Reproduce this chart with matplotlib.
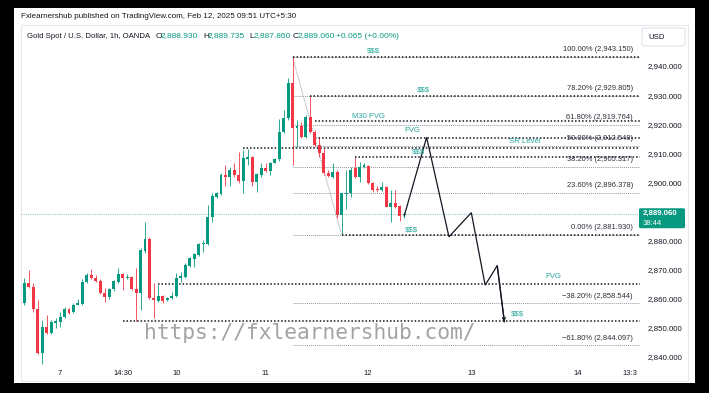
import matplotlib
matplotlib.use('Agg')
import matplotlib.pyplot as plt
from matplotlib.patches import Rectangle, FancyBboxPatch
import numpy as np

W, H = 709, 393
plt.rcParams['font.family'] = ['Liberation Sans', 'DejaVu Sans']

# ---------------- data (1h candles, OANDA XAUUSD) ----------------
opens = [2858.6, 2865.5, 2864.1, 2856.4, 2841.5, 2850.4, 2848.3, 2851.8, 2852.1, 2853.6,
         2856.4, 2855.6, 2857.8, 2858.2, 2865.9, 2868.1, 2867.0, 2866.2, 2861.9, 2860.5,
         2863.2, 2865.9, 2868.5, 2867.3, 2867.6, 2863.3, 2862.1, 2876.5, 2880.4, 2860.4,
         2859.4, 2861.0, 2859.6, 2860.3, 2861.0, 2867.2, 2867.6, 2871.3, 2873.6, 2875.1,
         2878.7, 2878.7, 2888.2, 2894.9, 2896.0, 2902.6, 2902.0, 2904.3, 2902.6, 2900.6,
         2908.2, 2908.6, 2900.3, 2902.6, 2904.9, 2904.0, 2906.8, 2908.0, 2917.4, 2922.0,
         2934.0, 2918.6, 2919.4, 2915.5, 2922.6, 2917.4, 2912.9, 2910.0, 2903.1, 2902.0,
         2903.7, 2888.8, 2896.1, 2896.3, 2904.9, 2901.8, 2905.2, 2905.7, 2899.9, 2897.6,
         2897.4, 2898.3, 2891.7, 2892.8, 2891.9, 2888.93]
highs = [2867.0, 2869.9, 2865.5, 2859.6, 2852.7, 2854.6, 2852.7, 2853.3, 2855.5, 2857.3,
         2856.7, 2858.6, 2860.1, 2866.7, 2868.7, 2870.1, 2868.1, 2866.7, 2863.6, 2863.6,
         2866.5, 2870.5, 2869.0, 2868.5, 2867.9, 2870.5, 2877.4, 2886.5, 2881.1, 2865.3,
         2864.7, 2861.3, 2860.7, 2862.5, 2868.8, 2869.3, 2872.2, 2874.5, 2875.9, 2879.1,
         2880.2, 2892.2, 2896.2, 2896.8, 2903.1, 2906.0, 2905.4, 2906.6, 2910.6, 2911.1,
         2911.4, 2909.1, 2903.1, 2906.6, 2906.6, 2907.1, 2908.3, 2921.7, 2924.9, 2935.8,
         2943.15, 2921.5, 2920.9, 2923.2, 2929.6, 2918.0, 2915.7, 2911.7, 2904.3, 2906.6,
         2904.3, 2896.5, 2904.3, 2905.4, 2908.6, 2907.1, 2906.6, 2906.0, 2900.3, 2898.6,
         2900.3, 2898.6, 2897.4, 2897.4, 2892.2, 2889.735]
lows = [2857.8, 2863.6, 2855.6, 2841.0, 2837.6, 2848.0, 2847.9, 2849.8, 2850.4, 2853.3,
        2854.8, 2855.2, 2857.8, 2857.8, 2865.5, 2866.7, 2865.9, 2861.6, 2859.0, 2860.1,
        2862.8, 2865.6, 2863.0, 2866.7, 2863.0, 2852.4, 2856.2, 2875.6, 2859.8, 2853.3,
        2859.0, 2858.7, 2859.4, 2860.1, 2860.7, 2865.9, 2867.0, 2870.8, 2871.0, 2874.7,
        2876.2, 2878.5, 2886.5, 2894.5, 2895.7, 2898.6, 2898.6, 2902.0, 2899.7, 2896.3,
        2906.0, 2898.6, 2896.8, 2902.0, 2903.7, 2902.6, 2906.6, 2907.5, 2916.9, 2921.5,
        2906.0, 2912.3, 2915.2, 2915.2, 2916.9, 2912.5, 2908.9, 2902.6, 2901.8, 2901.4,
        2887.7, 2881.93, 2890.8, 2895.1, 2901.4, 2900.3, 2904.9, 2899.5, 2896.8, 2896.8,
        2897.2, 2891.4, 2886.5, 2891.1, 2886.9, 2887.86]
closes = [2865.5, 2864.1, 2856.4, 2841.5, 2850.4, 2848.3, 2852.1, 2852.5, 2853.8, 2856.4,
          2855.2, 2857.8, 2858.4, 2865.9, 2868.1, 2867.0, 2866.2, 2861.9, 2860.5, 2863.2,
          2866.2, 2868.5, 2867.0, 2867.6, 2863.3, 2862.1, 2876.8, 2880.4, 2860.2, 2859.6,
          2861.0, 2859.4, 2860.4, 2861.0, 2867.0, 2867.9, 2871.6, 2873.9, 2875.4, 2878.8,
          2879.1, 2888.2, 2895.3, 2896.3, 2902.6, 2901.8, 2904.3, 2902.6, 2900.6, 2908.5,
          2908.6, 2900.3, 2902.8, 2904.9, 2904.0, 2906.8, 2907.9, 2917.4, 2922.0, 2934.0,
          2918.6, 2919.4, 2915.5, 2922.6, 2917.4, 2912.9, 2910.0, 2903.1, 2902.2, 2903.7,
          2888.8, 2896.3, 2896.5, 2904.3, 2901.8, 2905.4, 2906.0, 2899.9, 2897.4, 2897.4,
          2898.3, 2891.7, 2892.8, 2891.7, 2888.5, 2889.06]

last_price = 2889.06

fib_levels = [2943.150, 2929.805, 2919.764, 2912.548, 2905.317, 2896.378, 2881.930, 2858.544, 2844.097]
fib_names = ['100.00%', '78.20%', '61.80%', '50.00%', '38.20%', '23.60%', '0.00%', '\u221238.20%', '\u221261.80%']
fib_high_idx = 60
fib_low_idx = 71

zone_prices = [2943.15, 2929.6, 2921.0, 2915.3, 2911.7, 2908.6, 2881.93, 2865.0, 2852.4]
zone_starts = [60, 64, 65, 65, 49, 74, 71, 30, 22]

path_x = [85, 90, 95, 100, 103.1, 105.8, 107.4]
path_y = [2888.5, 2915.5, 2881.3, 2889.6, 2864.7, 2871.4, 2852.1]

note_text = ['$$$', '$$$', 'M30 FVG', 'FVG', 'SR Level', '$$$', '$$$', 'FVG', '$$$']
note_x = [78.0, 89.2, 76.9, 86.7, 112.0, 88.1, 86.5, 118.3, 110.4]
note_y = [2945.2, 2931.75, 2922.8, 2917.7, 2913.9, 2910.4, 2883.6, 2867.8, 2854.8]

xtick_pos = [8.0, 22.1, 34.0, 53.9, 76.9, 100.0, 123.9, 135.5]
xtick_lab = ['7', '14:30', '10', '11', '12', '13', '14', '13:3']
ytick_vals = [2840, 2850, 2860, 2870, 2880, 2900, 2910, 2920, 2930, 2940]

# ---------------- colours ----------------
UP, DN = '#089981', '#f23645'
TXT = '#131722'
TEAL_TXT = '#26a69a'
GREY = '#9598a1'

def fx(x):
    return x / W

def fy(y):
    return 1 - y / H

fig = plt.figure(figsize=(W / 100, H / 100), dpi=100, facecolor='black')
fig.patches.append(Rectangle((fx(14), fy(383)), (695 - 14) / W, (383 - 8) / H,
                             transform=fig.transFigure, facecolor='white',
                             edgecolor='none', zorder=-5))
fig.patches.append(Rectangle((fx(21), fy(381)), (688 - 21) / W, (381 - 25) / H,
                             transform=fig.transFigure, facecolor='none',
                             edgecolor='#e6e8ee', lw=0.8, zorder=-4))

ax = fig.add_axes([fx(21), fy(365), (640 - 21) / W, (365 - 25) / H])
ax.set_facecolor('none')
ax.set_zorder(1)
for s in ax.spines.values():
    s.set_visible(False)
XL = (-0.74, 137.74)
ax.set_xlim(*XL)
ax.set_ylim(2837.25, 2954.09)

# watermark
fig.text(fx(144), fy(339), 'https://fxlearnershub.com/', family='DejaVu Sans Mono',
         fontsize=15.3, color='#a3a3a3', va='baseline', ha='left', zorder=0)

# candles
o = np.array(opens); c = np.array(closes); h = np.array(highs); l = np.array(lows)
idx = np.arange(len(o))
up = c >= o
cols = np.where(up, UP, DN)
body = c - o
body = np.where(np.abs(body) < 0.35, np.where(up, 0.35, -0.35), body)
ax.vlines(idx, l, h, colors=cols, lw=0.6, zorder=3)
ax.bar(idx, body, bottom=o, width=0.66, color=cols, linewidth=0, zorder=4)

# current price line
ax.axhline(last_price, color=UP, alpha=0.45, lw=0.8, ls=(0, (1, 1)), zorder=2)

# fib retracement levels
ax.hlines(fib_levels, fib_high_idx, XL[1], colors=GREY, lw=0.7, linestyles=(0, (1, 1)), zorder=2)
ax.plot([fib_high_idx, fib_low_idx], [highs[fib_high_idx], lows[fib_low_idx]],
        color=GREY, lw=0.7, ls=(0, (1, 1)), zorder=2)
for lev, name in zip(fib_levels, fib_names):
    ax.annotate(f'{name} ({lev:,.3f})', xy=(1, lev), xycoords=('axes fraction', 'data'),
                xytext=(-7, 7), textcoords='offset pixels', ha='right', va='center',
                fontsize=5.4, color='#2a2e39', zorder=5)

# user horizontal levels
ax.hlines(zone_prices, zone_starts, XL[1], colors=TXT, lw=1.1,
          linestyles=(0, (1, 1.3)), zorder=3)

# projected path
ax.plot(path_x, path_y, color=TXT, lw=0.9, zorder=6, solid_joinstyle='miter')
ax.annotate('', xy=(path_x[-1], path_y[-1]), xytext=(path_x[-2], path_y[-2]),
            arrowprops=dict(arrowstyle='->', lw=0.9, color=TXT, shrinkA=0, shrinkB=0,
                            mutation_scale=5), zorder=6)

# notes
for t, x, y in zip(note_text, note_x, note_y):
    ax.text(x, y, t, color=TEAL_TXT, fontsize=5.6, ha='center', va='center', zorder=6)

# axes ticks
ax.set_xticks(xtick_pos)
ax.set_xticklabels(xtick_lab)
ax.set_yticks(ytick_vals)
ax.set_yticklabels([f'{v:,.3f}' for v in ytick_vals])
ax.yaxis.set_ticks_position('right')
ax.tick_params(axis='y', length=0, pad=5.5, labelsize=5.7, labelcolor=TXT)
ax.tick_params(axis='x', length=0, pad=3.5, labelsize=5.5, labelcolor=TXT)

# price badge
fig.canvas.draw()
_, by = ax.transData.transform((0, last_price))
byp = H - by
fig.patches.append(FancyBboxPatch((fx(639), fy(byp + 14)), 46 / W, 20 / H,
                                  boxstyle='round,pad=0,rounding_size=0.003',
                                  transform=fig.transFigure, facecolor=UP,
                                  edgecolor='none', zorder=7))
fig.text(fx(643), fy(byp - 1), f'{last_price:,.3f}', color='white', fontsize=5.7,
         fontweight='bold', va='center', ha='left', zorder=8)
fig.text(fx(643), fy(byp + 9), '38:44', color='white', fontsize=5.5,
         va='center', ha='left', zorder=8)

# header
fig.text(fx(21), fy(17), 'Fxlearnershub published on TradingView.com, Feb 12, 2025 09:51 UTC+5:30',
         color=TXT, fontsize=5.8, va='center', ha='left')
hy = fy(36)
fig.text(fx(27), hy, 'Gold Spot / U.S. Dollar, 1h, OANDA', color=TXT, fontsize=5.6, va='center')
for lab, lx, val, vx in [('O', 155.5, opens[-1], 160.5), ('H', 203, highs[-1], 208),
                         ('L', 249, lows[-1], 253.3), ('C', 292.7, closes[-1], 297.7)]:
    fig.text(fx(lx), hy, lab, color=TXT, fontsize=6.0, va='center')
    fig.text(fx(vx), hy, f'{val:,.3f}', color=UP, fontsize=6.0, va='center')
fig.text(fx(336), hy, '+0.065 (+0.00%)', color=UP, fontsize=6.0, va='center')

fig.patches.append(FancyBboxPatch((fx(642), fy(46)), 43 / W, 18 / H,
                                  boxstyle='round,pad=0,rounding_size=0.004',
                                  transform=fig.transFigure, facecolor='white',
                                  edgecolor='#e0e3eb', lw=0.8, zorder=2))
fig.text(fx(648), fy(37.5), 'USD', color=TXT, fontsize=5.6, va='center', zorder=3)

fig.savefig('out.png', dpi=100, facecolor='black')
